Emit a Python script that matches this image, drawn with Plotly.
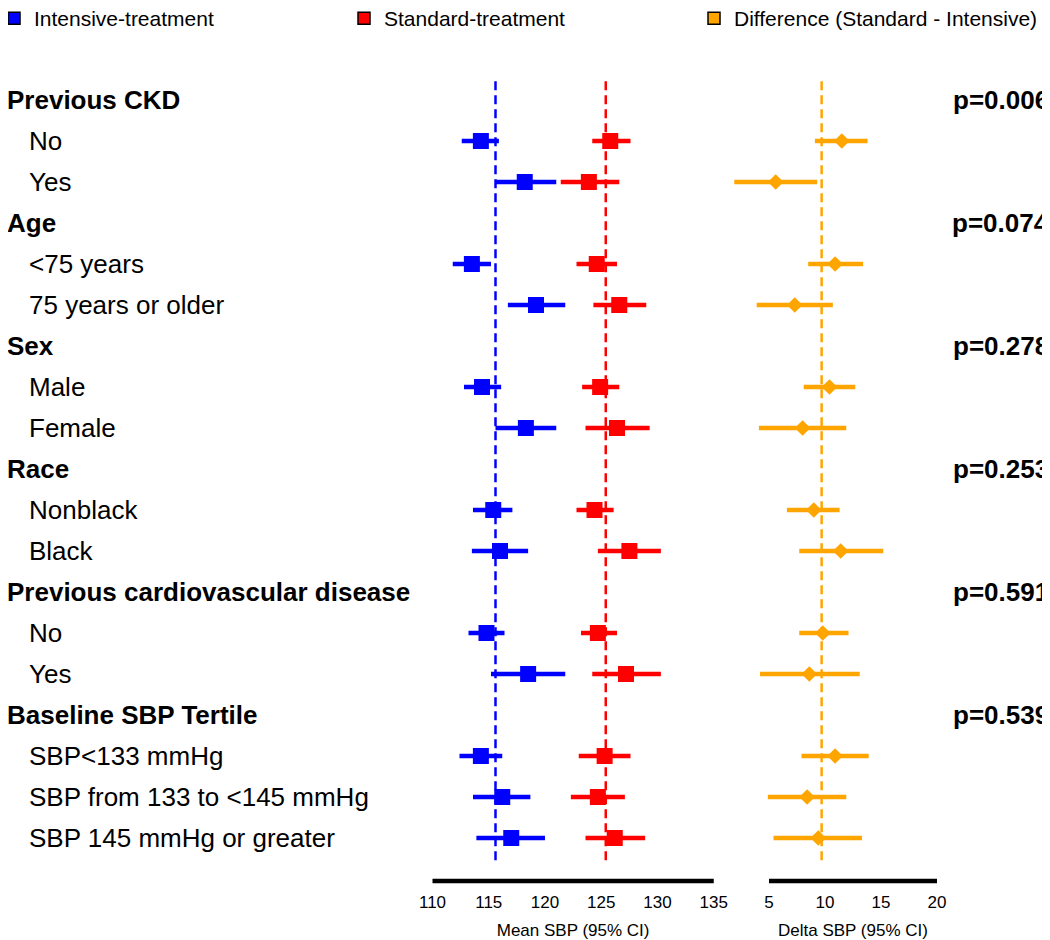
import plotly.graph_objects as go

# ---------------- data ----------------
groups = ["Previous CKD", "Age", "Sex", "Race",
          "Previous cardiovascular disease", "Baseline SBP Tertile"]
pvals = ["p=0.006", "p=0.074", "p=0.278", "p=0.253", "p=0.591", "p=0.539"]
subgroups = [["No", "Yes"],
             ["<75 years", "75 years or older"],
             ["Male", "Female"],
             ["Nonblack", "Black"],
             ["No", "Yes"],
             ["SBP<133 mmHg", "SBP from 133 to <145 mmHg", "SBP 145 mmHg or greater"]]

int_mean = [114.3, 118.2, 113.5, 119.2, 114.4, 118.3, 115.4, 116.0, 114.8, 118.5, 114.3, 116.2, 117.0]
int_lo = [112.6, 115.6, 111.8, 116.7, 112.8, 115.6, 113.6, 113.5, 113.2, 115.2, 112.4, 113.6, 113.9]
int_hi = [115.9, 121.0, 115.2, 121.8, 116.1, 121.0, 117.1, 118.5, 116.4, 121.8, 116.2, 118.7, 120.0]

std_mean = [125.8, 123.9, 124.6, 126.6, 124.9, 126.4, 124.4, 127.5, 124.7, 127.2, 125.3, 124.7, 126.2]
std_lo = [124.2, 121.4, 122.8, 124.3, 123.3, 123.6, 122.8, 124.7, 123.2, 124.2, 123.0, 122.3, 123.6]
std_hi = [127.6, 126.6, 126.4, 129.0, 126.6, 129.3, 126.1, 130.3, 126.4, 130.3, 127.6, 127.1, 128.9]

diff_mean = [11.5, 5.6, 10.9, 7.3, 10.4, 8.0, 9.0, 11.4, 9.8, 8.6, 10.9, 8.4, 9.4]
diff_lo = [9.1, 1.9, 8.5, 3.9, 8.1, 4.1, 6.6, 7.7, 7.7, 4.2, 7.9, 4.9, 5.4]
diff_hi = [13.8, 9.3, 13.4, 10.7, 12.7, 11.9, 11.3, 15.2, 12.1, 13.1, 13.9, 11.9, 13.3]

overall_int = 115.6
overall_std = 125.4
overall_diff = 9.7

left_ticks = [110, 115, 120, 125, 130, 135]
right_ticks = [5, 10, 15, 20]

legend_names = ["Intensive-treatment", "Standard-treatment", "Difference (Standard - Intensive)"]

BLUE, RED, ORANGE = "#0000FF", "#FF0000", "#FFA500"
FONT = "Liberation Sans, Arial, sans-serif"

# ---------------- geometry (page has an 8px body margin) ----------------
W, H = 1042, 932
top_px, step = 92, 41
bot_margin = 59
plot_h = H - bot_margin
y_top = -top_px / step
y_bot = (plot_h - top_px) / step

# ---------------- row layout ----------------
header_rows, sub_rows, sub_labels = [], [], []
r = 0
for g, subs in zip(groups, subgroups):
    header_rows.append(r)
    r += 1
    for s in subs:
        sub_rows.append(r)
        sub_labels.append(s)
        r += 1
n_rows = r

fig = go.Figure()

def ci_trace(mean, lo, hi, color, xaxis, symbol, size, name):
    return go.Scatter(
        x=mean, y=sub_rows, xaxis=xaxis, yaxis="y", mode="markers",
        marker=dict(symbol=symbol, size=size, color=color, line=dict(width=0)),
        error_x=dict(type="data", symmetric=False,
                     array=[h - m for h, m in zip(hi, mean)],
                     arrayminus=[m - l for m, l in zip(mean, lo)],
                     color=color, thickness=4.5, width=0),
        showlegend=False, name=name, hoverinfo="skip")

fig.add_trace(ci_trace(int_mean, int_lo, int_hi, BLUE, "x", "square", 16, legend_names[0]))
fig.add_trace(ci_trace(std_mean, std_lo, std_hi, RED, "x", "square", 16, legend_names[1]))
fig.add_trace(ci_trace(diff_mean, diff_lo, diff_hi, ORANGE, "x2", "diamond", 12, legend_names[2]))

# legend entries (one legend box each, placed like the reference)
for name, col, lg in zip(legend_names, [BLUE, RED, ORANGE], ["legend", "legend2", "legend3"]):
    fig.add_trace(go.Scatter(x=[None], y=[None], mode="markers", name=name, legend=lg,
                             marker=dict(symbol="square", size=12, color=col,
                                         line=dict(color="black", width=1.5))))

# dashed reference lines
dash_top, dash_bot = -0.46, n_rows - 1 + 0.56
for val, col, xr in [(overall_int, BLUE, "x"), (overall_std, RED, "x"), (overall_diff, ORANGE, "x2")]:
    fig.add_shape(type="line", xref=xr, yref="y", x0=val, x1=val, y0=dash_top, y1=dash_bot,
                  line=dict(color=col, width=2.5, dash="9px,5px"))

# bottom axis lines
fig.add_shape(type="line", xref="x", yref="paper", x0=left_ticks[0], x1=left_ticks[-1], y0=0, y1=0,
              line=dict(color="black", width=4.5))
fig.add_shape(type="line", xref="x2", yref="paper", x0=right_ticks[0], x1=right_ticks[-1], y0=0, y1=0,
              line=dict(color="black", width=4.5))

# text labels
FS = 26
ann = []
for hr, g, p in zip(header_rows, groups, pvals):
    ann.append(dict(x=0, xref="paper", y=hr, yref="y", text="<b>%s</b>" % g, showarrow=False,
                    xanchor="left", yanchor="middle", xshift=-3,
                    font=dict(size=FS, color="black", family=FONT)))
    ann.append(dict(x=1, xref="paper", y=hr, yref="y", text="<b>%s</b>" % p, showarrow=False,
                    xanchor="right", yanchor="middle", xshift=1,
                    font=dict(size=FS, color="black", family=FONT)))
for sr, s in zip(sub_rows, sub_labels):
    ann.append(dict(x=22 / W, xref="paper", y=sr, yref="y", text=s, showarrow=False,
                    xanchor="left", yanchor="middle", xshift=-3,
                    font=dict(size=FS, color="black", family=FONT)))

axis_common = dict(showgrid=False, zeroline=False, showline=False, ticks="outside", ticklen=6,
                   tickcolor="rgba(0,0,0,0)", tickfont=dict(size=17, color="black", family=FONT),
                   anchor="y", automargin=False)

leg_y = 1 + 10 / plot_h
leg_common = dict(orientation="h", xanchor="left", y=leg_y, yanchor="top",
                  font=dict(size=21, color="black", family=FONT), bgcolor="rgba(0,0,0,0)")

fig.update_layout(
    width=W, height=H,
    margin=dict(l=0, r=0, t=0, b=bot_margin, autoexpand=False),
    plot_bgcolor="white", paper_bgcolor="white",
    xaxis=dict(domain=[402 / W, 728.25 / W], range=[108, 137], tickvals=left_ticks,
               title=dict(text="Mean SBP (95% CI)", font=dict(size=17, color="black", family=FONT), standoff=14),
               **axis_common),
    xaxis2=dict(domain=[716.2 / W, 973.8 / W], range=[1, 24], tickvals=right_ticks,
                title=dict(text="Delta SBP (95% CI)", font=dict(size=17, color="black", family=FONT), standoff=14),
                **axis_common),
    yaxis=dict(range=[y_bot, y_top], visible=False, domain=[0, 1]),
    annotations=ann,
    showlegend=True,
    legend=dict(x=-14 / W, **leg_common),
    legend2=dict(x=336 / W, **leg_common),
    legend3=dict(x=686 / W, **leg_common),
)

fig.write_html("out.html")
